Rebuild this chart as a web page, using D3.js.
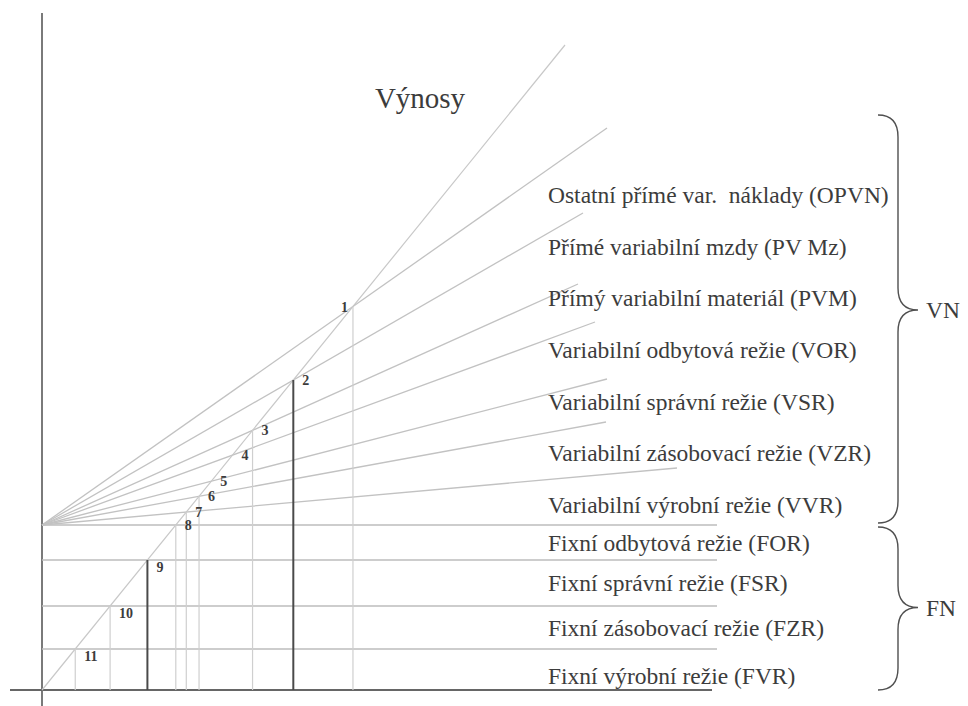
<!DOCTYPE html>
<html>
<head>
<meta charset="utf-8">
<script src="https://cdn.jsdelivr.net/npm/d3@7"></script>
<style>
  body { margin: 0; background: #fff; }
  text { white-space: pre; }
</style>
</head>
<body>
<svg id="chart" width="968" height="706"></svg>
<script>
/* Data (quantity / cost units) */
const revenueQty = [0, 104.6];
const revenueValue = [0, 129];

const varLabels = [
    "Ostatní přímé var.  náklady (OPVN)",
    "Přímé variabilní mzdy (PV Mz)",
    "Přímý variabilní materiál (PVM)",
    "Variabilní odbytová režie (VOR)",
    "Variabilní správní režie (VSR)",
    "Variabilní zásobovací režie (VZR)",
    "Variabilní výrobní režie (VVR)"
];
const varEndQty = [113, 108.2, 107.2, 110.6, 113, 112.8, 127];
const varEndCost = [112.4, 95.4, 81.2, 73.6, 62.2, 53.6, 44.4];

const fixedLabels = [
    "Fixní odbytová režie (FOR)",
    "Fixní správní režie (FSR)",
    "Fixní zásobovací režie (FZR)",
    "Fixní výrobní režie (FVR)"
];
const fixedLevels = [33, 26, 16.8, 8.2, 0];   // cumulative fixed cost, top down
const fixedLineEnd = 135;

const dropPoints = [1, 2, 3, 6, 7, 8, 9, 10, 11];
const boldDrops = [2, 9];

const groupNames = ["VN", "FN"];
const groupSpans = [[115, 33], [33, 0]];   // cost range each brace covers
const groupTips = [76, 16.5];              // where each brace points

const serif = "Liberation Serif";
const ink = "#3c3c3c";

/* scales */
const svg = d3.select("#chart");
const x = d3.scaleLinear().domain([0, 134]).range([42, 712]);
const y = d3.scaleLinear().domain([0, 135.4]).range([690, 13]);

/* axes */
svg.append("line")
    .attr("x1", x(0)).attr("x2", x(0))
    .attr("y1", y(-3.2)).attr("y2", y(135.4))
    .attr("stroke", "#7a7a7a").attr("stroke-width", 2);

svg.append("line")
    .attr("x1", x(-6.4)).attr("x2", x(134))
    .attr("y1", y(0)).attr("y2", y(0))
    .attr("stroke", "#666").attr("stroke-width", 2);

/* title */
svg.append("text")
    .attr("x", 420).attr("y", 108)
    .attr("text-anchor", "middle")
    .attr("font-family", serif)
    .attr("font-size", 29)
    .attr("fill", ink)
    .text("Výnosy");

/* fixed cost horizontals */
svg.selectAll(".fixed").data(fixedLevels.slice(0, 4))
    .enter().append("line")
    .attr("class", "fixed")
    .attr("x1", x(0)).attr("x2", x(fixedLineEnd))
    .attr("y1", d => y(d)).attr("y2", d => y(d))
    .attr("stroke", "#bdbdbd").attr("stroke-width", 1.3);

/* variable cost fan lines, starting at total fixed cost */
const fixedTotal = fixedLevels[0];
svg.selectAll(".fan").data(varEndQty)
    .enter().append("line")
    .attr("class", "fan")
    .attr("x1", x(0)).attr("y1", y(fixedTotal))
    .attr("x2", d => x(d)).attr("y2", (d, i) => y(varEndCost[i]))
    .attr("stroke", "#c2c2c2").attr("stroke-width", 1.3);

/* revenue line */
svg.append("line")
    .attr("x1", x(revenueQty[0])).attr("y1", y(revenueValue[0]))
    .attr("x2", x(revenueQty[1])).attr("y2", y(revenueValue[1]))
    .attr("stroke", "#c8c8c8").attr("stroke-width", 1.2);

/* intersections of revenue with each cost line */
const price = (revenueValue[1] - revenueValue[0]) / (revenueQty[1] - revenueQty[0]);
const points = [];
varEndQty.forEach((q, i) => {
    const slope = (varEndCost[i] - fixedTotal) / q;
    const t = fixedTotal / (price - slope);
    points.push({ n: i + 1, q: t, c: price * t });
});
fixedLevels.slice(0, 4).forEach((lvl, i) => {
    const t = lvl / price;
    points.push({ n: varEndQty.length + i + 1, q: t, c: lvl });
});

/* drop lines to the quantity axis */
svg.selectAll(".drop").data(points.filter(p => dropPoints.includes(p.n)))
    .enter().append("line")
    .attr("class", "drop")
    .attr("x1", d => x(d.q)).attr("x2", d => x(d.q))
    .attr("y1", d => y(d.c)).attr("y2", y(0))
    .attr("stroke", d => boldDrops.includes(d.n) ? "#4a4a4a" : "#cfcfcf")
    .attr("stroke-width", d => boldDrops.includes(d.n) ? 2 : 1.2);

/* point numbers */
svg.selectAll(".num").data(points)
    .enter().append("text")
    .attr("class", "num")
    .attr("x", d => d.n === 1 ? x(d.q) - 5 : x(d.q) + 9)
    .attr("y", d => y(d.c) + (d.n > 8 ? 12 : 5))
    .attr("text-anchor", d => d.n === 1 ? "end" : "start")
    .attr("font-family", serif)
    .attr("font-size", 14)
    .attr("font-weight", "bold")
    .attr("fill", ink)
    .text(d => d.n);

/* labels */
const varLabelY = d3.scalePoint().domain(varLabels).range([203, 513]);
svg.selectAll(".varLabel").data(varLabels)
    .enter().append("text")
    .attr("class", "varLabel")
    .attr("x", 548)
    .attr("y", d => varLabelY(d))
    .attr("font-family", serif)
    .attr("font-size", 23.5)
    .attr("fill", ink)
    .text(d => d);

svg.selectAll(".fixLabel").data(fixedLabels)
    .enter().append("text")
    .attr("class", "fixLabel")
    .attr("x", 548)
    .attr("y", (d, i) => (y(fixedLevels[i]) + y(fixedLevels[i + 1])) / 2 + 8 + (i === 3 ? 6 : 0))
    .attr("font-family", serif)
    .attr("font-size", 23.5)
    .attr("fill", ink)
    .text(d => d);

/* braces */
function bracePath(x0, y1, y2, ym, w) {
    const xm = x0 + w / 2, r = 22;
    return "M" + x0 + "," + y1 +
        " Q" + xm + "," + y1 + " " + xm + "," + (y1 + r) +
        " L" + xm + "," + (ym - r) +
        " Q" + xm + "," + ym + " " + (x0 + w) + "," + ym +
        " Q" + xm + "," + ym + " " + xm + "," + (ym + r) +
        " L" + xm + "," + (y2 - r) +
        " Q" + xm + "," + y2 + " " + x0 + "," + y2;
}
groupSpans.forEach((s, i) => {
    const y1 = y(s[0]) + (i === 0 ? 0 : 2), y2 = y(s[1]) - (i === 0 ? 2 : 0);
    const ym = y(groupTips[i]);
    svg.append("path")
        .attr("d", bracePath(878, y1, y2, ym, 40))
        .attr("fill", "none")
        .attr("stroke", "#505050")
        .attr("stroke-width", 1.4);
    svg.append("text")
        .attr("x", 926)
        .attr("y", ym + 8)
        .attr("font-family", serif)
        .attr("font-size", 23.5)
        .attr("fill", ink)
        .text(groupNames[i]);
});
</script>
</body>
</html>
